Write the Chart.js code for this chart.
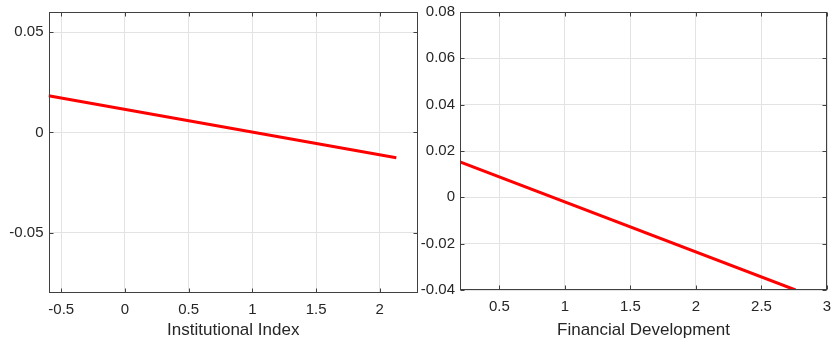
<!DOCTYPE html>
<html>
<head>
<meta charset="utf-8">
<script src="https://cdn.jsdelivr.net/npm/chart.js@4/dist/chart.umd.min.js"></script>
<style>
  html, body { margin: 0; padding: 0; background: #fff; }
  #wrap { position: relative; width: 832px; height: 339px; }
  .panel { position: absolute; top: 0; }
  #p1 { left: 0; }
  #p2 { left: 416px; }
</style>
</head>
<body>
<div id="wrap">
  <div class="panel" id="p1"><canvas id="chartInst" width="420" height="339"></canvas></div>
  <div class="panel" id="p2"><canvas id="chartFin" width="416" height="339"></canvas></div>
</div>
<script>
// left panel: Institutional Index
const instX = [-0.6, 2.13];
const instY = [0.0183, -0.0126];
const instXRange = [-0.6, 2.3];
const instYRange = [-0.08, 0.06];
const instXStep = 0.5;
const instYStep = 0.05;

// right panel: Financial Development
const finX = [0.2, 2.76];
const finY = [0.0153, -0.0400];
const finXRange = [0.2, 3];
const finYRange = [-0.04, 0.08];
const finXStep = 0.5;
const finYStep = 0.02;

const textColor = '#262626';
const gridColor = '#e3e3e3';
const boxColor = '#404040';
const fontFamily = 'Liberation Sans, Arial, sans-serif';

/* box + inward ticks, matlab style */
const matlabBox = {
  id: 'matlabBox',
  afterDraw(chart) {
    const { ctx, chartArea: a, scales } = chart;
    const x = scales.x, y = scales.y;
    const L = Math.round(a.left) + 0.5, R = Math.round(a.right) - 0.5;
    const T = Math.round(a.top) + 0.5, B = Math.round(a.bottom) - 0.5;
    ctx.save();
    ctx.strokeStyle = boxColor;
    ctx.lineWidth = 1;
    ctx.beginPath();
    x.ticks.forEach((t) => {
      const px = Math.round(x.getPixelForValue(t.value)) + 0.5;
      ctx.moveTo(px, B); ctx.lineTo(px, B - 4);
      ctx.moveTo(px, T); ctx.lineTo(px, T + 4);
    });
    y.ticks.forEach((t) => {
      const py = Math.round(y.getPixelForValue(t.value)) + 0.5;
      ctx.moveTo(L, py); ctx.lineTo(L + 4, py);
      ctx.moveTo(R, py); ctx.lineTo(R - 4, py);
    });
    ctx.stroke();
    ctx.strokeRect(L, T, R - L, B - T);
    ctx.restore();
  }
};

const fmt = (v) => String(+Number(v).toFixed(3));

function makePanel(id, xs, ys, xRange, yRange, xStep, yStep, title, pad, yWidth, xHeight) {
  const pts = xs.map((v, i) => ({ x: v, y: ys[i] }));
  return new Chart(document.getElementById(id), {
    type: 'scatter',
    data: {
      datasets: [{
        data: pts,
        showLine: true,
        borderColor: '#ff0000',
        borderWidth: 3,
        pointRadius: 0,
        fill: false
      }]
    },
    options: {
      responsive: false,
      animation: false,
      layout: { padding: pad },
      plugins: { legend: { display: false }, tooltip: { enabled: false } },
      scales: {
        x: {
          type: 'linear',
          min: xRange[0],
          max: xRange[1],
          afterFit: (s) => { s.height = xHeight; s.paddingLeft = 0; s.paddingRight = 0; },
          grid: { color: gridColor, drawTicks: false },
          border: { display: false },
          ticks: {
            stepSize: xStep,
            includeBounds: false,
            padding: 8,
            color: textColor,
            font: { family: fontFamily, size: 15 },
            callback: fmt
          },
          title: {
            display: true,
            text: title,
            color: textColor,
            padding: 0,
            font: { family: fontFamily, size: 17, lineHeight: 1 }
          }
        },
        y: {
          type: 'linear',
          min: yRange[0],
          max: yRange[1],
          afterFit: (s) => { s.width = yWidth; s.paddingTop = 0; s.paddingBottom = 0; },
          grid: { color: gridColor, drawTicks: false },
          border: { display: false },
          ticks: {
            stepSize: yStep,
            includeBounds: false,
            padding: 5,
            color: textColor,
            font: { family: fontFamily, size: 15 },
            callback: fmt
          }
        }
      }
    },
    plugins: [matlabBox]
  });
}

makePanel('chartInst', instX, instY, instXRange, instYRange, instXStep, instYStep,
  'Institutional Index', { top: 12, right: 2, left: 0, bottom: 0 }, 48.5, 46);
makePanel('chartFin', finX, finY, finXRange, finYRange, finXStep, finYStep,
  'Financial Development', { top: 12, right: 5, left: 0, bottom: 0 }, 44, 49);
</script>
</body>
</html>
